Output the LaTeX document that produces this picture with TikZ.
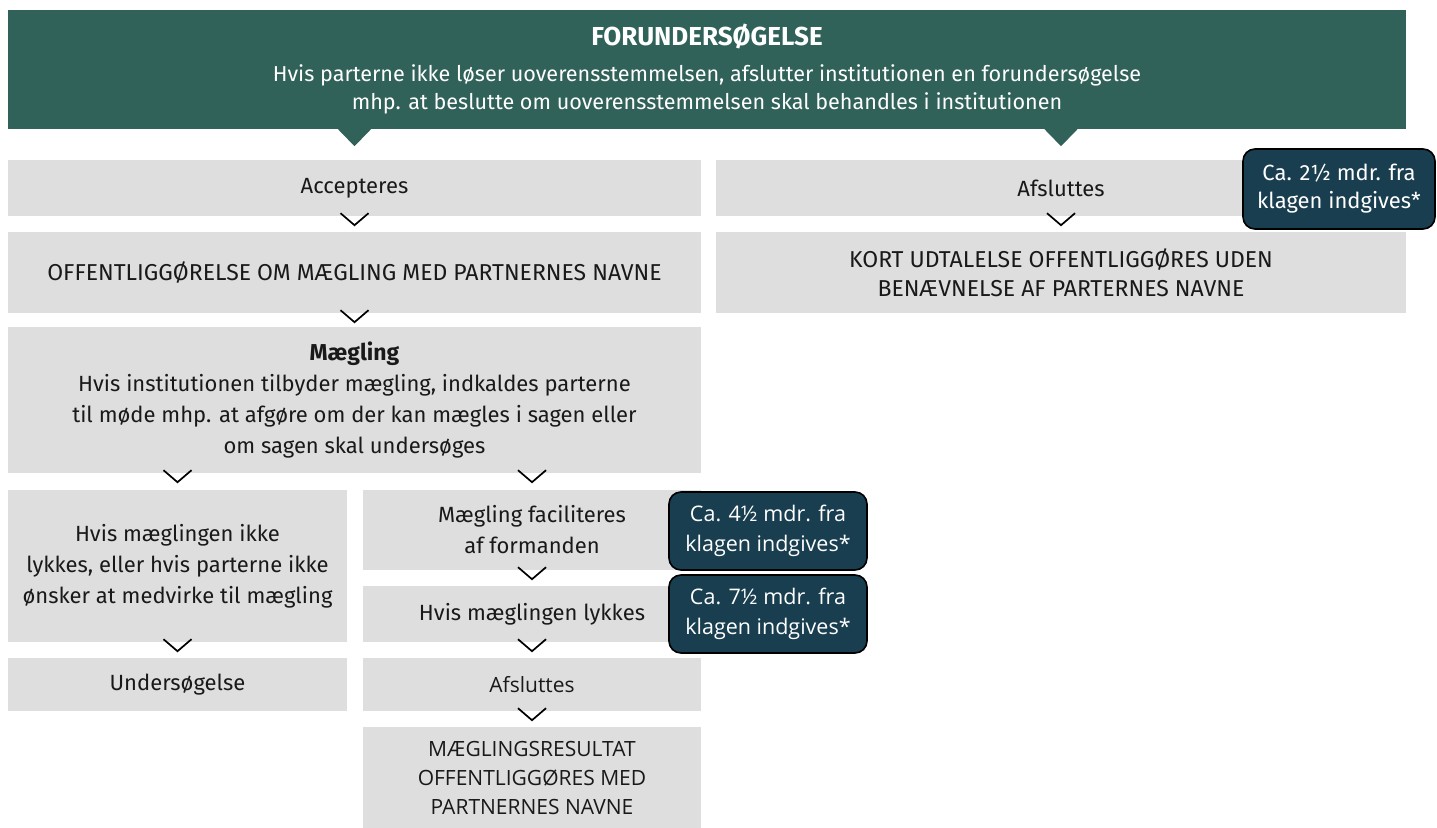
\documentclass[tikz,border=0pt]{standalone}
\usepackage{fontspec}
\setmainfont{Fira Sans}
\newfontfamily\wfont{Open Sans}
\usetikzlibrary{calc}
\definecolor{hdrgreen}{RGB}{48,98,90}
\definecolor{boxg}{RGB}{222,222,222}
\definecolor{badgeblue}{RGB}{24,62,79}
\definecolor{txt}{RGB}{25,25,25}
\newcommand\chevat[1]{\draw[chev] ($(#1)+(-14,-3)$) -- ++(14,12) -- ++(14,-12);}
\begin{document}
\begin{tikzpicture}[x=1pt,y=-1pt,
  box/.style={fill=boxg, inner sep=0pt, align=center, text=txt,
    font=\fontsize{22}{31}\selectfont},
  capbox/.style={box, font=\fontsize{23}{29}\selectfont},
  wbox/.style={box, font=\wfont\fontsize{21}{29}\selectfont},
  badgebox/.style={fill=badgeblue, draw=black, line width=1.6pt,
    rounded corners=12pt, text=white, align=center, inner sep=0pt,
    minimum width=192, minimum height=80, font=\fontsize{22}{28}\selectfont},
  wbadge/.style={badgebox, font=\wfont\fontsize{21.5}{30}\selectfont},
  chev/.style={draw=black, line width=1.7pt}
]
\useasboundingbox (0,0) rectangle (1437,827);
% header
\node[fill=hdrgreen, inner sep=0pt, minimum width=1398, minimum height=119,
  text=white, align=center, font=\fontsize{21.6}{28}\selectfont] (hdr) at (707,69.5)
  {{\bfseries\fontsize{26}{28}\selectfont FORUNDERSØGELSE}\\[8pt]
   Hvis parterne ikke løser uoverensstemmelsen, afslutter institutionen en forundersøgelse\\
   mhp. at beslutte om uoverensstemmelsen skal behandles i institutionen};
% row 1
\node[box, minimum width=693, minimum height=56] (acc) at (354.5,188) {Accepteres};
\node[box, minimum width=690, minimum height=56] (afs1) at (1061,188) {Afsluttes};
% row 2
\node[capbox, minimum width=693, minimum height=81] (off) at (354.5,272.5)
  {OFFENTLIGGØRELSE OM MÆGLING MED PARTNERNES NAVNE};
\node[capbox, minimum width=690, minimum height=81] (kort) at (1061,272.5)
  {KORT UDTALELSE OFFENTLIGGØRES UDEN\\BENÆVNELSE AF PARTERNES NAVNE};
% header pointers
\fill[hdrgreen] ($(hdr.south -| acc.north)+(-17,-0.5)$) -- ++(17,17.5) -- ++(17,-17.5) -- cycle;
\fill[hdrgreen] ($(hdr.south -| afs1.north)+(-17,-0.5)$) -- ++(17,17.5) -- ++(17,-17.5) -- cycle;
% maegling
\node[box, minimum width=693, minimum height=146] (maeg) at (354.5,400)
  {{\bfseries\fontsize{23}{31}\selectfont Mægling}\\
   Hvis institutionen tilbyder mægling, indkaldes parterne\\
   til møde mhp. at afgøre om der kan mægles i sagen eller\\
   om sagen skal undersøges};
% lower left
\node[box, minimum width=339, minimum height=152] (left) at (177.5,566)
  {Hvis mæglingen ikke\\lykkes, eller hvis parterne ikke\\ønsker at medvirke til mægling};
\node[box, minimum width=339, minimum height=53] (und) at (177.5,684.5) {Undersøgelse};
% lower right
\node[box, minimum width=338, minimum height=80] (fac) at (532,530)
  {Mægling faciliteres\\af formanden};
\node[box, minimum width=338, minimum height=56] (lyk) at (532,614) {Hvis mæglingen lykkes};
\node[wbox, minimum width=338, minimum height=53] (afs2) at (532,684.5) {Afsluttes};
\node[wbox, minimum width=338, minimum height=102] (res) at (532,778)
  {MÆGLINGSRESULTAT\\OFFENTLIGGØRES MED\\PARTNERNES NAVNE};
% badges
\node[badgebox] (b1) at (1339,189) {Ca. 2½ mdr. fra\\klagen indgives*};
\node[wbadge, minimum width=198, minimum height=78] (b2) at (768,531) {Ca. 4½ mdr. fra\\klagen indgives*};
\node[wbadge, minimum width=198, minimum height=78] (b3) at (768,614) {Ca. 7½ mdr. fra\\klagen indgives*};
% chevrons
\chevat{acc.south}
\chevat{afs1.south}
\chevat{off.south}
\chevat{maeg.south -| left.north}
\chevat{maeg.south -| fac.north}
\chevat{left.south}
\chevat{fac.south}
\chevat{lyk.south}
\chevat{afs2.south}
\end{tikzpicture}
\end{document}
